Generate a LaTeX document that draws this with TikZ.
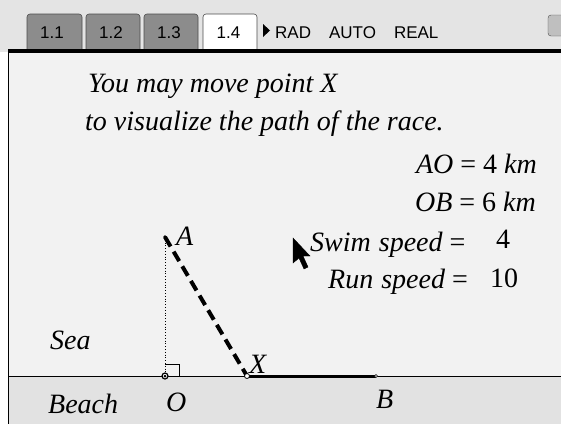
\documentclass[tikz,border=0pt]{standalone}
\usepackage{fontspec}
\setmainfont{Liberation Serif}
\newfontfamily\tabfont{Liberation Sans}
\definecolor{topgray}{HTML}{E4E4E4}
\definecolor{tabgray}{HTML}{8C8C8C}
\definecolor{seabg}{HTML}{F2F2F2}
\definecolor{beachbg}{HTML}{E2E2E2}
\tikzset{
  tabbox/.style={draw=black!70, line width=0.6pt, fill=tabgray, rounded corners=3pt},
  lbl/.style={font=\fontsize{28}{30}\selectfont\itshape, inner sep=0pt},
  eqn/.style={font=\fontsize{28}{30}\selectfont, inner sep=0pt},
  tabtxt/.style={font=\tabfont\fontsize{17}{18}\selectfont, inner sep=0pt},
}
\newcommand{\gap}{\hspace{7pt}}
\begin{document}
\begin{tikzpicture}[x=1pt,y=-1pt]
\useasboundingbox (0,0) rectangle (561,424);
% backgrounds
\fill[topgray] (0,0) rectangle (561,52);
\fill[seabg] (8,52) rectangle (561,376);
\fill[beachbg] (8,376) rectangle (561,424);
% tabs
\path[tabbox] (27,49) -- (27,14) -- (82,14) -- (82,49);
\path[tabbox] (86,49) -- (86,14) -- (140,14) -- (140,49);
\path[tabbox] (144,49) -- (144,14) -- (198,14) -- (198,49);
\path[tabbox, fill=white] (203,49) -- (203,14) -- (257,14) -- (257,49);
\node[tabtxt] (t1) at (52,33) {1.1};
\node[tabtxt] (t2) at (111,33) {1.2};
\node[tabtxt] (t3) at (169,33) {1.3};
\node[tabtxt] (t4) at (228.5,33) {1.4};
\fill (263,24) -- (270,30.5) -- (263,37) -- cycle;
\node[tabtxt, anchor=west] (mode) at (275,33) {RAD\hspace{18pt}AUTO\hspace{18pt}REAL};
\path[draw=black!70, fill=black!25, rounded corners=3pt] (548,15) rectangle (570,36);
% frame
\fill (8,49) rectangle (561,53);
\draw[line width=1pt] (8,53) -- (8,424);
% texts
\node[lbl, anchor=base west] (l1) at (88,92) {You may move point X};
\node[lbl, anchor=base west] (l2) at (85,130) {to visualize the path of the race.};
\node[eqn, anchor=base east] (ao) at (537,173) {\textit{AO}\gap=\gap4\gap\textit{km}};
\node[eqn, anchor=base east] (ob) at (536,211) {\textit{OB}\gap=\gap6\gap\textit{km}};
\node[eqn, anchor=base west] (sw) at (310,251) {\textit{Swim\hspace{8pt}speed}\gap=};
\node[eqn, anchor=base west] (sv) at (496,248) {4};
\node[eqn, anchor=base west] (rn) at (328,288) {\textit{Run\hspace{8pt}speed}\gap=};
\node[eqn, anchor=base west] (rv) at (490,287) {10};
\node[lbl, anchor=base west] (sea) at (50,349) {Sea};
\node[lbl, anchor=base west] (beach) at (48,413) {Beach};
% geometry
\coordinate (A) at (165,237);
\coordinate (O) at (165,376);
\coordinate (X) at (247,376);
\coordinate (B) at (376,376);
\coordinate (L) at (8,376);
\coordinate (R) at (561,376);
\draw[line width=0.8pt] (L) -- (R);
\draw[dotted, line width=0.8pt] (A) -- (O);
\draw[line width=0.8pt] (165,364) -- (179,364) -- (179,376);
\draw[dash pattern=on 11pt off 6pt, line width=4pt] (A) -- (X);
\draw[line width=3pt] (X) -- (B);
\fill[black] (A) circle (1.8);
\filldraw[fill=white, draw=black, line width=1.2pt] (O) circle (3);
\fill[black] (O) circle (1.5);
\filldraw[fill=white, draw=black, line width=0.8pt] (X) circle (2.5);
\filldraw[fill=white, draw=black, line width=0.6pt] (B) circle (1.5);
\node[lbl, anchor=base west] (la) at (176,245) {A};
\node[lbl, anchor=base west] (lx) at (249,373) {X};
\node[lbl, anchor=base west] (lo) at (166,411) {O};
\node[lbl, anchor=base west] (lb) at (376,408) {B};
% cursor
\filldraw[black] (293,238) -- (293,263) -- (299,258) -- (304,269) -- (308,267) -- (303,256) -- (310,256) -- cycle;
\end{tikzpicture}
\end{document}
